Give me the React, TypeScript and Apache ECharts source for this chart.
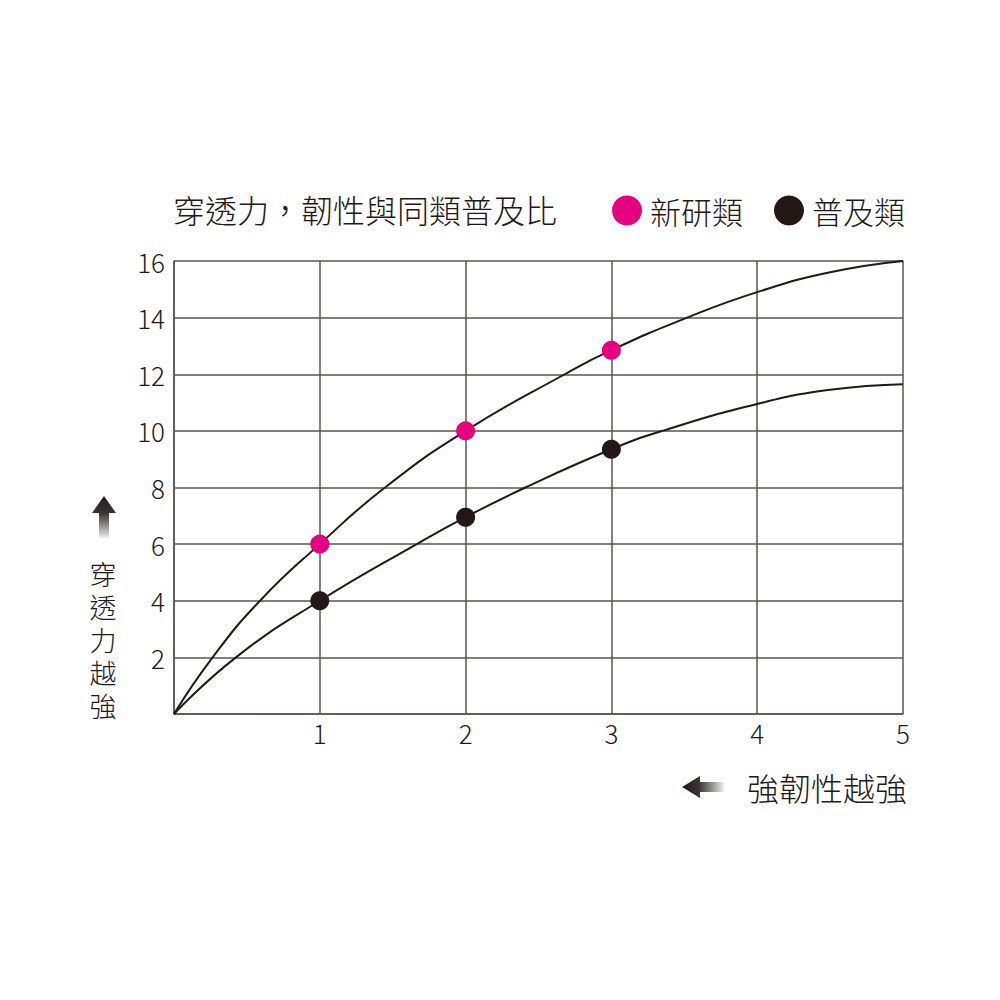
import React, { useEffect, useRef } from "react";
import * as echarts from "echarts";

const titleText = "穿透力，韌性與同類普及比";
const seriesNames = ["新研類", "普及類"];
const yAxisNameChars = ["穿", "透", "力", "越", "強"];
const xAxisName = "強韌性越強";

// marked points (x, y)
const newMarks: [number, number][] = [[1, 6], [2, 10], [3, 12.85]];
const popMarks: [number, number][] = [[1, 4], [2, 6.95], [3, 9.35]];

// curve points
const newCurve: [number, number][] = [
  [0, 0], [0.265, 2], [0.59, 4], [1, 6], [1.447, 8], [2, 10], [2.68, 12],
  [3, 12.85], [3.52, 14], [4, 14.9], [4.5, 15.6], [5, 16],
];
const popCurve: [number, number][] = [
  [0, 0], [0.425, 2], [1, 4], [1.665, 6], [2, 6.95], [2.41, 8], [3, 9.35],
  [3.35, 10], [4, 10.95], [4.5, 11.45], [5, 11.65],
];

const MAGENTA = "#e4007f";
const DARK = "#231815";
const GRID = "#5a5452";
const FONT = "'Noto Sans CJK TC', 'Noto Sans', sans-serif";

export default function App() {
  const ref = useRef<HTMLDivElement>(null);
  useEffect(() => {
    document.body.style.margin = "0";
    if (!ref.current) return;
    const chart = echarts.init(ref.current, null, { renderer: "svg" });
    const arrowFill = (x2: number, y2: number) =>
      new echarts.graphic.LinearGradient(0, 0, x2, y2, [
        { offset: 0, color: DARK },
        { offset: 0.4, color: "#3a3433" },
        { offset: 1, color: "rgba(35,24,21,0.06)" },
      ]);
    chart.setOption({
      animation: false,
      backgroundColor: "#ffffff",
      textStyle: { fontFamily: FONT },
      grid: { left: 174, right: 97, top: 261, bottom: 286 },
      legend: {
        left: 612,
        top: 195,
        padding: 0,
        itemWidth: 30,
        itemHeight: 30,
        itemGap: 31,
        icon: "circle",
        data: seriesNames,
        textStyle: {
          fontSize: 31,
          fontWeight: 300,
          color: DARK,
          fontFamily: FONT,
          padding: [0, 0, 0, 3],
        },
      },
      xAxis: {
        type: "value",
        min: 0,
        max: 5,
        interval: 1,
        axisLine: { show: true, lineStyle: { color: GRID, width: 1.5 } },
        axisTick: { show: false },
        splitLine: { show: true, lineStyle: { color: GRID, width: 1.5 } },
        axisLabel: {
          fontSize: 26,
          fontWeight: 300,
          color: DARK,
          margin: 5,
          fontFamily: FONT,
          formatter: (v: number) => (v === 0 ? "" : String(v)),
        },
      },
      yAxis: {
        type: "value",
        min: 0,
        max: 16,
        interval: 2,
        axisLine: { show: true, lineStyle: { color: GRID, width: 1.5 } },
        axisTick: { show: false },
        splitLine: { show: true, lineStyle: { color: GRID, width: 1.5 } },
        axisLabel: {
          fontSize: 26,
          fontWeight: 300,
          color: DARK,
          margin: 9,
          fontFamily: FONT,
          formatter: (v: number) => (v === 0 ? "" : String(v)),
        },
      },
      series: [
        {
          type: "line",
          data: newCurve,
          smooth: 0.5,
          showSymbol: false,
          lineStyle: { color: DARK, width: 2 },
          z: 3,
        },
        {
          type: "line",
          data: popCurve,
          smooth: 0.5,
          showSymbol: false,
          lineStyle: { color: DARK, width: 2 },
          z: 3,
        },
        {
          name: seriesNames[0],
          type: "scatter",
          data: newMarks,
          symbolSize: 19,
          itemStyle: { color: MAGENTA, opacity: 1 },
          z: 5,
        },
        {
          name: seriesNames[1],
          type: "scatter",
          data: popMarks,
          symbolSize: 19,
          itemStyle: { color: DARK, opacity: 1 },
          z: 5,
        },
      ],
      graphic: [
        {
          type: "text",
          left: 173,
          top: 193,
          style: { text: titleText, fontSize: 32, fontWeight: 300, fill: DARK, fontFamily: FONT },
        },
        ...yAxisNameChars.map((ch, i) => ({
          type: "text",
          x: 103,
          y: 573 + i * 33.2,
          style: {
            text: ch,
            fontSize: 27,
            fontWeight: 300,
            fill: DARK,
            fontFamily: FONT,
            align: "center",
            verticalAlign: "middle",
          },
        })),
        {
          type: "polygon",
          shape: {
            points: [
              [104, 496], [116, 513], [109, 513], [109, 538], [99, 538], [99, 513], [92, 513],
            ],
          },
          style: { fill: arrowFill(0, 1) },
        },
        {
          type: "polygon",
          shape: {
            points: [
              [682, 787], [700, 776], [700, 782], [724, 782], [724, 792], [700, 792], [700, 798],
            ],
          },
          style: { fill: arrowFill(1, 0) },
        },
        {
          type: "text",
          left: 747,
          top: 771,
          style: { text: xAxisName, fontSize: 32, fontWeight: 300, fill: DARK, fontFamily: FONT },
        },
      ],
    });
    return () => chart.dispose();
  }, []);
  return <div ref={ref} style={{ width: 1000, height: 1000 }} />;
}
